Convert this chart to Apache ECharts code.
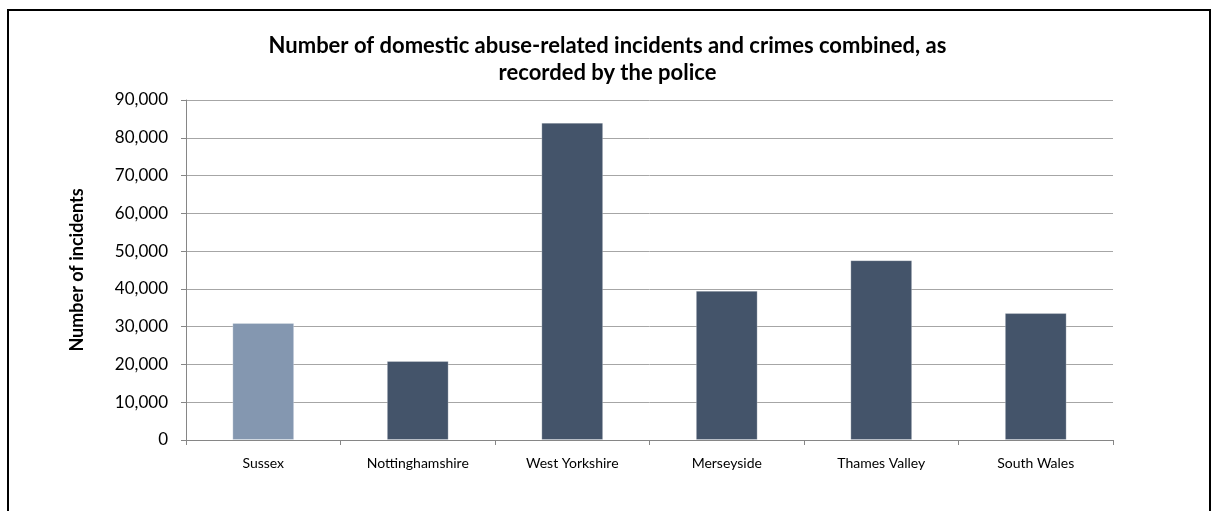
<!DOCTYPE html>
<html>
<head>
<meta charset="utf-8">
<script src="https://cdn.jsdelivr.net/npm/echarts@6/dist/echarts.min.js"></script>
<style>
  html, body { margin: 0; padding: 0; background: #ffffff; }
  #chart { width: 1215px; height: 511px; }
</style>
</head>
<body>
<div id="chart"></div>
<script>
// Police force areas and their recorded domestic abuse incidents + crimes
const forces = ['Sussex', 'Nottinghamshire', 'West Yorkshire', 'Merseyside', 'Thames Valley', 'South Wales'];
const incidents = [31000, 20900, 84000, 39500, 47600, 33600];
const highlightForce = 'Sussex';

const yMin = 0;
const yMax = 90000;
const yStep = 10000;

const baseColor = '#44546A';
const highlightColor = '#8497B0';

const chart = echarts.init(document.getElementById('chart'), null, { renderer: 'canvas' });

chart.setOption({
  backgroundColor: '#ffffff',
  animation: false,
  graphic: [{
    type: 'rect',
    shape: { x: 8, y: 10, width: 1202, height: 520 },
    style: { fill: 'none', stroke: '#000000', lineWidth: 2 },
    silent: true
  }],
  title: {
    text: 'Number of domestic abuse-related incidents and crimes combined, as\nrecorded by the police',
    left: 'center',
    top: 27,
    textStyle: {
      fontFamily: 'Lato',
      fontWeight: 'bold',
      fontSize: 22,
      lineHeight: 27,
      color: '#000000'
    }
  },
  grid: { left: 186, right: 102, top: 100, bottom: 71, containLabel: false },
  xAxis: {
    type: 'category',
    data: forces,
    axisLine: { show: true, lineStyle: { color: '#868686', width: 1 } },
    axisTick: { show: true, alignWithLabel: false, length: 5, lineStyle: { color: '#868686' } },
    axisLabel: {
      fontFamily: 'Lato',
      fontSize: 14,
      color: '#000000',
      margin: 16
    }
  },
  yAxis: {
    type: 'value',
    min: yMin,
    max: yMax,
    interval: yStep,
    name: 'Number of incidents',
    nameLocation: 'middle',
    nameGap: 100,
    nameTextStyle: {
      fontFamily: 'Lato',
      fontWeight: 'bold',
      fontSize: 18,
      color: '#000000'
    },
    axisLine: { show: true, lineStyle: { color: '#868686', width: 1 } },
    axisTick: { show: true, length: 5, lineStyle: { color: '#868686' } },
    axisLabel: {
      fontFamily: 'Lato',
      fontSize: 17,
      color: '#000000',
      margin: 18,
      formatter: v => v.toLocaleString('en-US')
    },
    splitLine: { show: true, lineStyle: { color: '#a6a6a6', width: 1 } }
  },
  series: [{
    type: 'bar',
    data: incidents.map((v, i) => ({
      value: v,
      itemStyle: { color: forces[i] === highlightForce ? highlightColor : baseColor }
    })),
    barWidth: '40%',
    itemStyle: { borderColor: 'rgba(255,255,255,0.25)', borderWidth: 1 }
  }]
});
</script>
</body>
</html>
